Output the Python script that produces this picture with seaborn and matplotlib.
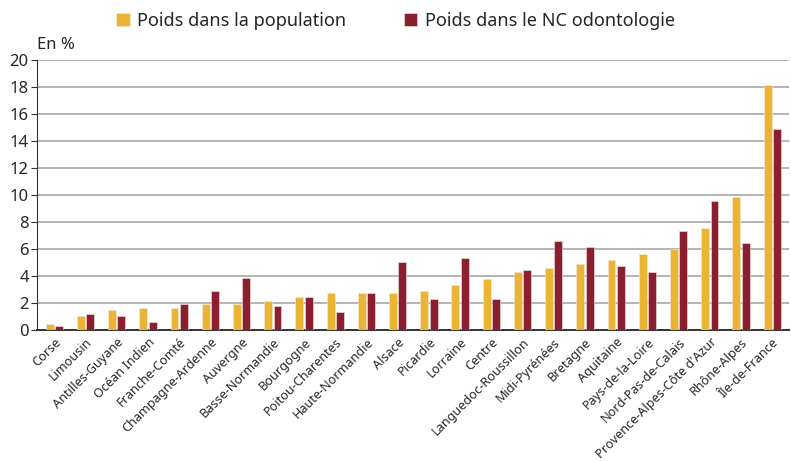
import matplotlib
matplotlib.use("Agg")
import matplotlib.pyplot as plt
import seaborn as sns
import pandas as pd

# regions, sorted as in the source chart
regions = ["Corse", "Limousin", "Antilles-Guyane", "Océan Indien", "Franche-Comté",
           "Champagne-Ardenne", "Auvergne", "Basse-Normandie", "Bourgogne",
           "Poitou-Charentes", "Haute-Normandie", "Alsace", "Picardie", "Lorraine",
           "Centre", "Languedoc-Roussillon", "Midi-Pyrénées", "Bretagne", "Aquitaine",
           "Pays-de-la-Loire", "Nord-Pas-de-Calais", "Provence-Alpes-Côte d'Azur",
           "Rhône-Alpes", "Île-de-France"]
pop = [0.45, 1.05, 1.5, 1.65, 1.65, 1.95, 1.95, 2.15, 2.42, 2.72, 2.72, 2.72, 2.89,
       3.33, 3.8, 4.27, 4.59, 4.89, 5.19, 5.65, 5.98, 7.53, 9.83, 18.15]
nc = [0.3, 1.2, 1.05, 0.6, 1.95, 2.9, 3.85, 1.8, 2.42, 1.33, 2.72, 5.04, 2.27,
      5.36, 2.27, 4.44, 6.59, 6.12, 4.74, 4.27, 7.36, 9.53, 6.44, 14.91]
series = ["Poids dans la population", "Poids dans le NC odontologie"]
colors = ["#ebb433", "#8b1e2f"]

df = pd.DataFrame({"region": regions * 2,
                   "val": pop + nc,
                   "serie": [series[0]] * len(regions) + [series[1]] * len(regions)})

sns.set_style("white")
plt.rcParams['font.family'] = ['Noto Sans', 'DejaVu Sans']

fig = plt.figure(figsize=(7.91, 4.61), dpi=100)
ax = fig.add_axes([0.047, 0.284, 0.951, 0.586])

sns.barplot(data=df, x="region", y="val", hue="serie", palette=colors, saturation=1,
            width=0.6, gap=0.15, edgecolor="#f4e6e0", linewidth=0.4, ax=ax, zorder=3)

ax.set_ylim(0, 20)
ax.set_yticks(range(0, 21, 2))
ax.set_xlim(-0.55, len(regions) - 0.45)
ax.yaxis.grid(True, color="#a0a0a0", linewidth=1.1, zorder=0)
ax.set_axisbelow(True)
for s in ["top", "right"]:
    ax.spines[s].set_visible(False)
ax.spines["left"].set_color("#333333")
ax.spines["bottom"].set_color("#333333")
ax.spines["bottom"].set_linewidth(1.4)
ax.tick_params(axis="y", left=True, length=4, color="#333333", labelsize=12, pad=2)
ax.tick_params(axis="x", bottom=False, labelsize=9.1, pad=0.5)
plt.setp(ax.get_xticklabels(), rotation=45, ha="right", rotation_mode="anchor")
ax.set_xlabel("")
ax.set_ylabel("")
ax.text(0.0, 1.025, "En %", transform=ax.transAxes, fontsize=12, va="bottom", ha="left")

h, l = ax.get_legend_handles_labels()
ax.legend(h, l, loc="upper center", bbox_to_anchor=(0.5, 1.01), bbox_transform=fig.transFigure,
          ncol=2, frameon=False, fontsize=13, handlelength=0.75, handleheight=0.75,
          columnspacing=3.2, handletextpad=0.4)

fig.savefig("out.png", dpi=100)
